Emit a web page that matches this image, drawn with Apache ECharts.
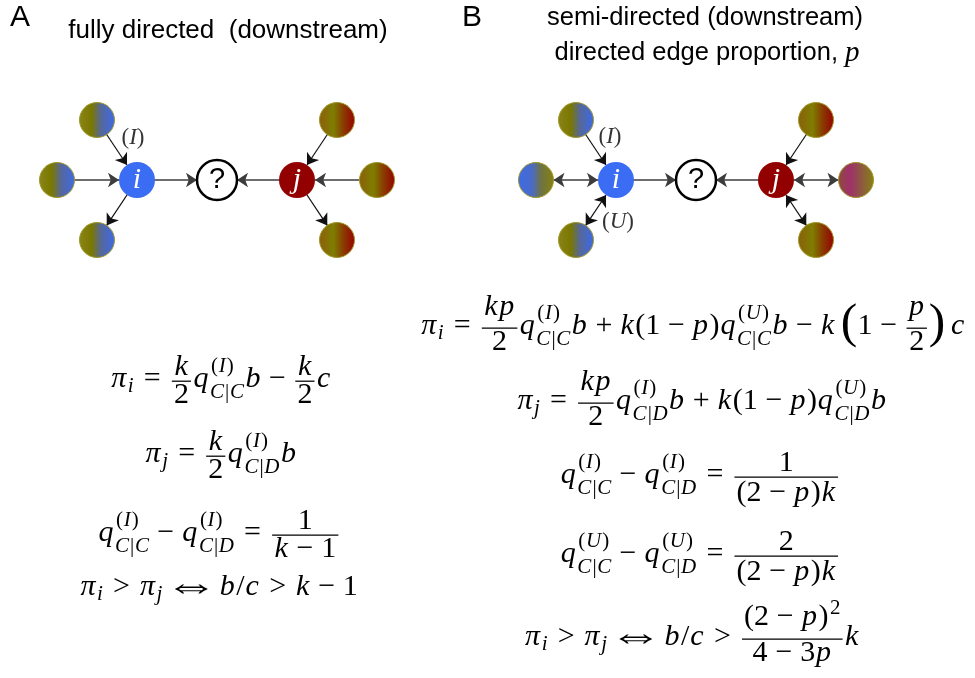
<!DOCTYPE html>
<html><head><meta charset="utf-8">
<script src="https://cdn.jsdelivr.net/npm/echarts@6/dist/echarts.min.js"></script>
<style>html,body{margin:0;padding:0;background:#fff}#c{width:975px;height:678px}</style>
</head><body><div id="c"></div>
<script>
// ---------- formula token helpers ----------
const I = s => ({k:'t', s, it:true});
const R = s => ({k:'t', s, it:false});
const SP = w => ({k:'sp', w});
const SS = (base, sub, sup) => ({k:'ss', base, sub, sup});
const FR = (num, den) => ({k:'fr', num, den});
const BIG = s => ({k:'big', s});
const SYM = s => ({k:'sym', s});
const REL = s => [SP(0.3), R(s), SP(0.3)];
const BIN = s => [SP(0.24), R(s), SP(0.24)];

// ---------- data ----------
const panelLabels = ['A', 'B'];
const titleA = ['fully directed  (downstream)'];
const titleB = ['semi-directed (downstream)', 'directed edge proportion, '];

// nodes: [name, x, y, kind]  (diagram units)
const nodesA = [
  ['a1', -1.5, 0.75, 'nbI'], ['a2', -2, 0, 'nbI'], ['a3', -1.5, -0.75, 'nbI'],
  ['b1', 1.5, 0.75, 'nbJ'], ['b2', 2, 0, 'nbJ'], ['b3', 1.5, -0.75, 'nbJ'],
  ['i', -1, 0, 'i'], ['j', 1, 0, 'j'], ['?', 0, 0, 'q']
];
const edgesA = [ // [source, target, bidirectional]
  ['a1','i',0], ['a2','i',0], ['i','a3',0], ['i','?',0],
  ['j','?',0], ['b1','j',0], ['b2','j',0], ['j','b3',0]
];
const nodesB = [
  ['a1', -1.5, 0.75, 'nbI'], ['a2', -2, 0, 'nbIrev'], ['a3', -1.5, -0.75, 'nbI'],
  ['b1', 1.5, 0.75, 'nbJ'], ['b2', 2, 0, 'nbJmag'], ['b3', 1.5, -0.75, 'nbJ'],
  ['i', -1, 0, 'i'], ['j', 1, 0, 'j'], ['?', 0, 0, 'q']
];
const edgesB = [
  ['a1','i',0], ['a2','i',1], ['a3','i',1], ['i','?',0],
  ['j','?',0], ['b1','j',0], ['b2','j',1], ['b3','j',1]
];
// edge labels: [letter, x, y]
const edgeLabelsA = [['I', -1.05, 0.525]];
const edgeLabelsB = [['I', -1.075, 0.54], ['U', -0.975, -0.525]];

const CC = [I('C'), R('|'), I('C')];
const CD = [I('C'), R('|'), I('D')];
const SUP_I = [R('('), I('I'), R(')')];
const SUP_U = [R('('), I('U'), R(')')];
const PI_I = SS([I('π')], [I('i')], null);
const PI_J = SS([I('π')], [I('j')], null);
const IFF = [SP(0.45), SYM('⇔'), SP(0.45)];

const formulasA = [
  [PI_I, ...REL('='), FR([I('k')],[R('2')]), SS([I('q')], CC, SUP_I), I('b'), ...BIN('−'), FR([I('k')],[R('2')]), I('c')],
  [PI_J, ...REL('='), FR([I('k')],[R('2')]), SS([I('q')], CD, SUP_I), I('b')],
  [SS([I('q')], CC, SUP_I), ...BIN('−'), SS([I('q')], CD, SUP_I), ...REL('='), FR([R('1')], [I('k'), ...BIN('−'), R('1')])],
  [PI_I, ...REL('>'), PI_J, ...IFF, I('b'), R('/'), I('c'), ...REL('>'), I('k'), ...BIN('−'), R('1')]
];
const formulasB = [
  [PI_I, ...REL('='), FR([I('k'), I('p')],[R('2')]), SS([I('q')], CC, SUP_I), I('b'), ...BIN('+'),
   I('k'), R('(1'), ...BIN('−'), I('p'), R(')'), SS([I('q')], CC, SUP_U), I('b'), ...BIN('−'),
   I('k'), SP(0.17), BIG('('), R('1'), ...BIN('−'), FR([I('p')],[R('2')]), BIG(')'), SP(0.17), I('c')],
  [PI_J, ...REL('='), FR([I('k'), I('p')],[R('2')]), SS([I('q')], CD, SUP_I), I('b'), ...BIN('+'),
   I('k'), R('(1'), ...BIN('−'), I('p'), R(')'), SS([I('q')], CD, SUP_U), I('b')],
  [SS([I('q')], CC, SUP_I), ...BIN('−'), SS([I('q')], CD, SUP_I), ...REL('='),
   FR([R('1')], [R('(2'), ...BIN('−'), I('p'), R(')'), I('k')])],
  [SS([I('q')], CC, SUP_U), ...BIN('−'), SS([I('q')], CD, SUP_U), ...REL('='),
   FR([R('2')], [R('(2'), ...BIN('−'), I('p'), R(')'), I('k')])],
  [PI_I, ...REL('>'), PI_J, ...IFF, I('b'), R('/'), I('c'), ...REL('>'),
   FR([SS([R('(2'), ...BIN('−'), I('p'), R(')')], null, [R('2')])], [R('4'), ...BIN('−'), R('3'), I('p')]), I('k')]
];

// ---------- layout / style ----------
const MATH_FONT = "'Liberation Serif', 'DejaVu Serif', serif";
const SANS = "'Liberation Sans', Arial, sans-serif";
const S = 30;
const MID = 0.34, AXIS = 0.26;
const formulaPosA = [[221, 389], [221, 464], [219, 543], [219, 597]];
const formulaPosB = [[693, 336], [702, 411], [700, 485], [700, 564], [692, 647]];

const gradients = {
  nbI:    [[0,'#8a8418'],[0.35,'#7a7800'],[0.62,'#55679c'],[1,'#3d6be8']],
  nbIrev: [[0,'#3d6be8'],[0.38,'#4a6ac8'],[0.65,'#6f7440'],[1,'#878212']],
  nbJ:    [[0,'#8c5e0c'],[0.4,'#7e7e00'],[0.7,'#8a3800'],[1,'#980000']],
  nbJmag: [[0,'#8c4c3c'],[0.33,'#a0306a'],[0.66,'#8c5a40'],[1,'#878212']]
};

const cv = document.createElement('canvas').getContext('2d');
function tw(s, size, it) { cv.font = (it ? 'italic ' : '') + size + 'px ' + MATH_FONT; return cv.measureText(s).width; }
function metricsOf(s) {
  let asc = /[A-Zbdfhklt0-9\/]/.test(s) ? 0.69 : 0.45;
  let desc = /[pqjgy\/]/.test(s) ? 0.22 : 0;
  if (/[()|]/.test(s)) { asc = 0.75; desc = 0.25; }
  return {asc, desc};
}
function txt(s, x, y, size, it, sx) {
  const el = {type:'text', x, y: y - MID*size, silent:true,
    style:{text:s, fontSize:size, fontFamily:MATH_FONT, fontStyle: it ? 'italic' : 'normal',
      fill:'#000', align:'left', verticalAlign:'middle'}};
  if (sx) el.scaleX = sx;
  return el;
}
function ln(x1, y1, x2, y2, lw) {
  return {type:'line', silent:true, shape:{x1, y1, x2, y2}, style:{stroke:'#000', lineWidth:lw}};
}
function lay(items, size) {
  const bs = items.map(it => layItem(it, size));
  let w = 0, asc = 0, desc = 0;
  bs.forEach(b => { w += b.w; asc = Math.max(asc, b.asc); desc = Math.max(desc, b.desc); });
  return {w, asc, desc, draw(x, y, out) { let cx = x; bs.forEach(b => { b.draw(cx, y, out); cx += b.w; }); }};
}
function layItem(it, size) {
  if (it.k === 't') {
    const m = metricsOf(it.s);
    const w = tw(it.s, size, it.it) + (it.it ? 0.06*size : 0.02*size);
    return {w, asc:m.asc*size, desc:m.desc*size, draw(x, y, out) { out.push(txt(it.s, x + (it.it ? 0.02*size : 0.01*size), y, size, it.it)); }};
  }
  if (it.k === 'sp') return {w: it.w*size, asc:0, desc:0, draw() {}};
  if (it.k === 'sym') {
    const sz = size*1.3, sx = 1.4;
    const adv = tw(it.s, sz, false);
    const w = 0.53*sz*sx;
    return {w, asc:0.6*size, desc:0, draw(x, y, out) {
      out.push(txt(it.s, x + w/2 - adv*sx/2, y - AXIS*size + 0.30*sz, sz, false, sx));
    }};
  }
  if (it.k === 'big') {
    const bsz = size*1.65;
    const w = tw(it.s, bsz, false);
    return {w, asc:1.0*size, desc:0.5*size, draw(x, y, out) {
      out.push(txt(it.s, x, y - AXIS*size + 0.255*bsz, bsz, false));
    }};
  }
  if (it.k === 'fr') {
    const n = lay(it.num, size), d = lay(it.den, size);
    const pad = 0.12*size;
    const w = Math.max(n.w, d.w) + 2*pad;
    const gap = 0.13*size, ax = AXIS*size;
    const nb = -(ax + gap + n.desc);
    const db = -ax + gap + d.asc;
    return {w, asc: -nb + n.asc, desc: db + d.desc, draw(x, y, out) {
      n.draw(x + (w - n.w)/2, y + nb, out);
      d.draw(x + (w - d.w)/2, y + db, out);
      out.push(ln(x + pad*0.5, y - ax, x + w - pad*0.5, y - ax, 0.042*size));
    }};
  }
  if (it.k === 'ss') {
    const b = lay(it.base, size);
    const ss = size*0.7;
    const sub = it.sub ? lay(it.sub, ss) : null, sup = it.sup ? lay(it.sup, ss) : null;
    const both = sub && sup;
    const supUp = (both ? 0.5 : 0.42)*size, subDn = (both ? 0.34 : 0.17)*size;
    const supDx = 0.04*size;
    const w = b.w + Math.max(sub ? sub.w : 0, sup ? sup.w + supDx : 0);
    const asc = Math.max(b.asc, sup ? supUp + sup.asc : 0);
    const desc = Math.max(b.desc, sub ? subDn + sub.desc : 0);
    return {w, asc, desc, draw(x, y, out) {
      b.draw(x, y, out);
      if (sup) sup.draw(x + b.w + supDx, y - supUp, out);
      if (sub) sub.draw(x + b.w, y + subDn, out);
    }};
  }
}

// ---------- build graphics ----------
const graphics = [];
graphics.push({type:'text', x:10, y:3, silent:true, style:{text:panelLabels[0], fontSize:30, fontFamily:SANS, fill:'#000', align:'left', verticalAlign:'top'}});
graphics.push({type:'text', x:462, y:3, silent:true, style:{text:panelLabels[1], fontSize:30, fontFamily:SANS, fill:'#000', align:'left', verticalAlign:'top'}});
graphics.push({type:'text', x:228, y:31, silent:true, style:{text:titleA[0], fontSize:26, fontFamily:SANS, fill:'#000', align:'center', verticalAlign:'middle'}});
graphics.push({type:'text', x:705, y:18, silent:true, style:{text:titleB[0], fontSize:25.5, fontFamily:SANS, fill:'#000', align:'center', verticalAlign:'middle'}});
graphics.push({type:'text', x:707, y:53, silent:true, style:{text:titleB[1] + '{p|p}', fontSize:25.5, fontFamily:SANS, fill:'#000', align:'center', verticalAlign:'middle',
  rich:{p:{fontSize:29, fontFamily:MATH_FONT, fontStyle:'italic', fill:'#000'}}}});

function placeFormulas(list, pos) {
  list.forEach((f, k) => {
    const L = lay(f, S);
    L.draw(pos[k][0] - L.w/2, pos[k][1], graphics);
  });
}
placeFormulas(formulasA, formulaPosA);
placeFormulas(formulasB, formulaPosB);

// ---------- graph series ----------
function nodeItem(n) {
  const kind = n[3];
  const base = {name:n[0], value:[n[1], n[2]]};
  if (kind === 'i' || kind === 'j') {
    return Object.assign(base, {symbolSize:36, itemStyle:{color: kind === 'i' ? '#3a6cf4' : '#920000', borderWidth:0},
      label:{show:true, position:'inside', formatter:kind, fontSize:30, fontFamily:MATH_FONT, fontStyle:'italic', color:'#fff'}});
  }
  if (kind === 'q') {
    return Object.assign(base, {symbolSize:40, itemStyle:{color:'#fff', borderColor:'#000', borderWidth:2.5},
      label:{show:true, position:'inside', formatter:'?', fontSize:29, fontFamily:SANS, color:'#000'}});
  }
  return Object.assign(base, {symbolSize:35, label:{show:false},
    itemStyle:{borderColor:'#a09a28', borderWidth:1,
      color:{type:'linear', x:0, y:0, x2:1, y2:0, colorStops: gradients[kind].map(s => ({offset:s[0], color:s[1]}))}}});
}
function graphSeries(nodes, edges, idx) {
  const pos = {}; nodes.forEach(n => pos[n[0]] = n);
  return {
    type:'graph', coordinateSystem:'cartesian2d', xAxisIndex:idx, yAxisIndex:idx,
    animation:false, silent:true, z:2,
    data: nodes.map(nodeItem),
    edgeSymbolSize: 11,
    links: edges.map(e => {
      const horiz = pos[e[0]][2] === pos[e[1]][2];
      return {source:e[0], target:e[1], symbol: e[2] ? ['arrow','arrow'] : ['none','arrow'],
        lineStyle:{color: horiz ? '#3c3c3c' : '#111111', width: horiz ? 1.7 : 1.2, opacity:1, curveness:0}};
    })
  };
}
function labelSeries(labels, idx) {
  return {
    type:'scatter', xAxisIndex:idx, yAxisIndex:idx, symbolSize:1, animation:false, silent:true, z:3,
    itemStyle:{color:'rgba(0,0,0,0)'},
    data: labels.map(l => ({value:[l[1], l[2]], name:l[0]})),
    label:{show:true, position:'inside', formatter: p => '{r|(}{i|' + p.name + '}{r|)}',
      rich:{r:{fontSize:23, fontFamily:MATH_FONT, color:'#000'}, i:{fontSize:23, fontFamily:MATH_FONT, fontStyle:'italic', color:'#000'}}}
  };
}

const chart = echarts.init(document.getElementById('c'), null, {renderer:'canvas'});
const axX = i => ({gridIndex:i, type:'value', min:-2.7, max:2.7, show:false});
const axY = i => ({gridIndex:i, type:'value', min:-1.5, max:1.5, show:false});
chart.setOption({
  animation:false,
  backgroundColor:'#fff',
  grid:[{left:1, top:60, width:432, height:240}, {left:480, top:60, width:432, height:240}],
  xAxis:[axX(0), axX(1)],
  yAxis:[axY(0), axY(1)],
  series:[graphSeries(nodesA, edgesA, 0), graphSeries(nodesB, edgesB, 1), labelSeries(edgeLabelsA, 0), labelSeries(edgeLabelsB, 1)],
  graphic: graphics
});
</script></body></html>
